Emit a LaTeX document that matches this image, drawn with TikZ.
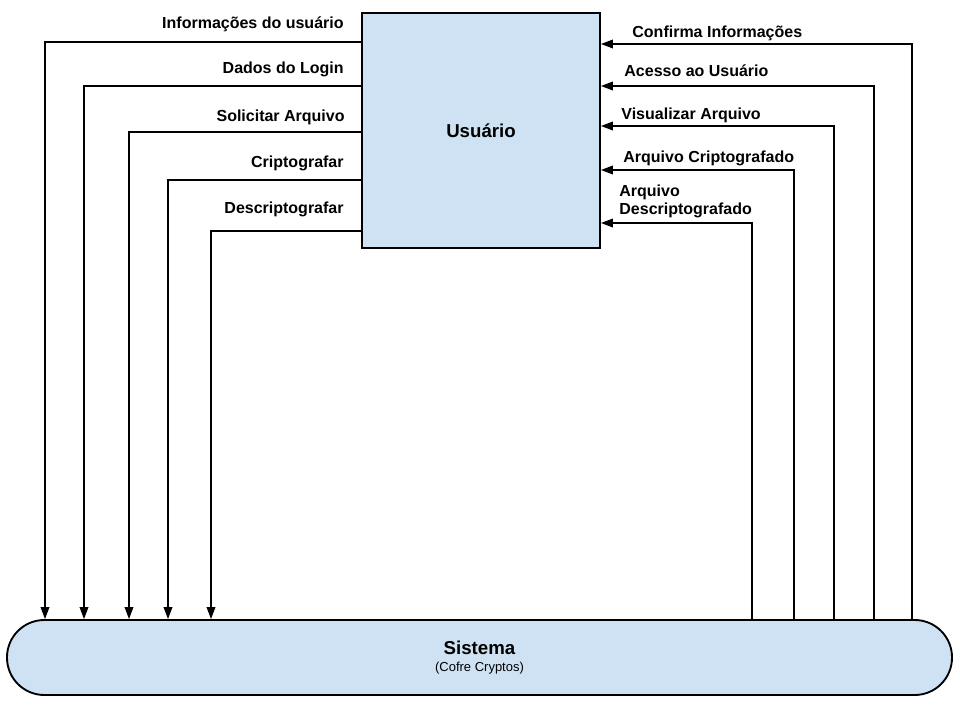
\documentclass[tikz,border=0pt]{standalone}
\usepackage{fontspec}
\setmainfont{Liberation Sans}
\usepackage{xcolor}
\usepackage{tikz}
\usetikzlibrary{arrows.meta}
\usetikzlibrary{calc}
\usetikzlibrary{positioning}

\definecolor{boxblue}{HTML}{CFE2F3}

\begin{document}
\begin{tikzpicture}[x=0.75pt,y=-0.75pt,semithick,
		flow/.style={-{Triangle[length=9pt,width=6.5pt]}, line width=1.1pt},
		lbl/.style={inner sep=0pt, font=\bfseries\fontsize{12}{13.5}\selectfont}]
	\useasboundingbox (0,0) rectangle (960,720);
	\tikzstyle{actor}=[draw=black, fill=boxblue, line width=1.4pt, minimum width=178.5pt, minimum height=176.25pt, font=\bfseries\fontsize{14}{16}\selectfont]
	\tikzstyle{system}=[draw=black, fill=boxblue, line width=1.4pt, rounded corners=28pt, minimum width=708.75pt, minimum height=56.25pt, align=center]
		\node[actor]  (usr) at (481,130.5) {Usuário};
		\node[system] (sis) at (479.5,657.5) {{\bfseries\fontsize{14}{16}\selectfont Sistema}\\[1pt]{\fontsize{9.75}{11}\selectfont (Cofre Cryptos)}};
		% usuario -> sistema
		\node[lbl, anchor=east] (l1) at (344,24)  {Informações do usuário};
		\node[lbl, anchor=east] (l2) at (344,69)  {Dados do Login};
		\node[lbl, anchor=east] (l3) at (345,117) {Solicitar Arquivo};
		\node[lbl, anchor=east] (l4) at (344,163) {Criptografar};
		\node[lbl, anchor=east] (l5) at (344,209) {Descriptografar};
		\draw[flow] (usr.west |- 0,42)  -| (sis.north -| 45,0);
		\draw[flow] (usr.west |- 0,86)  -| (sis.north -| 84,0);
		\draw[flow] (usr.west |- 0,132) -| (sis.north -| 129,0);
		\draw[flow] (usr.west |- 0,180) -| (sis.north -| 168,0);
		\draw[flow] (usr.west |- 0,231) -| (sis.north -| 211,0);
		% sistema -> usuario
		\node[lbl, anchor=west] (r1) at (632,33)  {Confirma Informações};
		\node[lbl, anchor=west] (r2) at (624,71)  {Acesso ao Usuário};
		\node[lbl, anchor=west] (r3) at (621,115) {Visualizar Arquivo};
		\node[lbl, anchor=west] (r4) at (623,158) {Arquivo Criptografado};
		\node[lbl, anchor=west, align=left] (r5) at (619,201) {Arquivo\\Descriptografado};
		\draw[flow] (sis.north -| 912,0) |- (usr.east |- 0,44);
		\draw[flow] (sis.north -| 874,0) |- (usr.east |- 0,86);
		\draw[flow] (sis.north -| 834,0) |- (usr.east |- 0,126);
		\draw[flow] (sis.north -| 794,0) |- (usr.east |- 0,170);
		\draw[flow] (sis.north -| 752,0) |- (usr.east |- 0,223);
\end{tikzpicture}
\end{document}
